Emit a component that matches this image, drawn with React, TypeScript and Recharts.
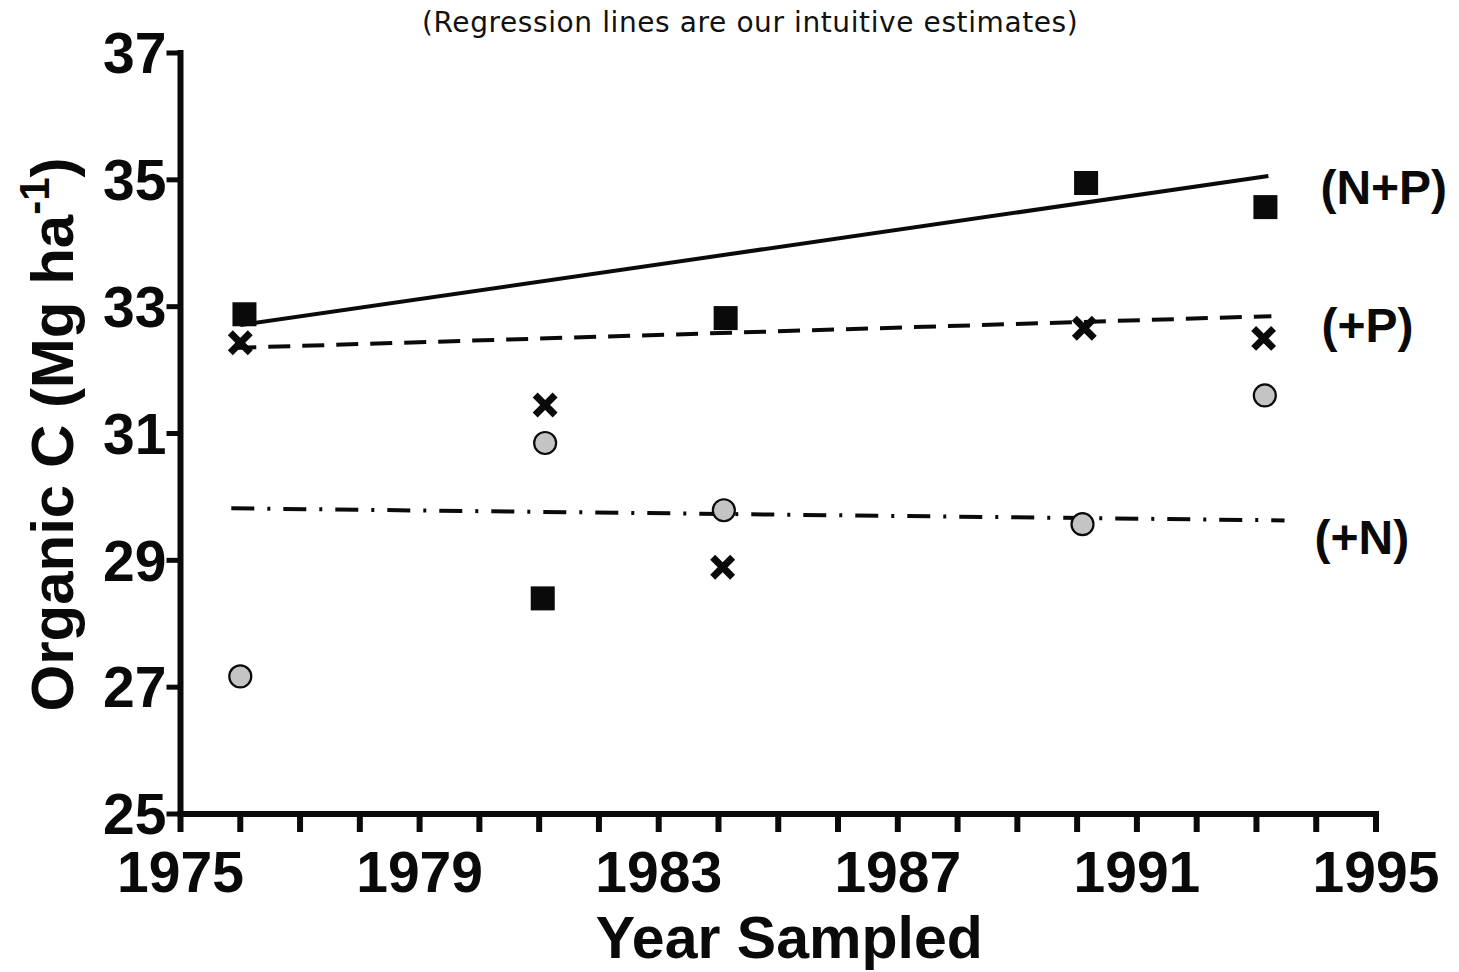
import React from 'react';
import { ComposedChart, XAxis, YAxis, Scatter, Line } from 'recharts';

// ---- data ----
const squareYears = [1976.07, 1981.06, 1984.12, 1990.15, 1993.15];
const npValues = [32.88, 28.4, 32.82, 34.95, 34.57];

const crossYears = [1976.0, 1981.1, 1984.07, 1990.12, 1993.12];
const pValues = [32.43, 31.45, 28.89, 32.66, 32.5];

const circleYears = [1976.0, 1981.1, 1984.09, 1990.09, 1993.14];
const nValues = [27.17, 30.85, 29.79, 29.57, 31.6];

const npLineYears = [1976.0, 1993.2];
const npLineValues = [32.71, 35.06];
const pLineYears = [1975.9, 1993.25];
const pLineValues = [32.35, 32.85];
const nLineYears = [1975.85, 1993.47];
const nLineValues = [29.82, 29.63];

const xTicks = [1975, 1976, 1977, 1978, 1979, 1980, 1981, 1982, 1983, 1984, 1985, 1986, 1987, 1988, 1989, 1990, 1991, 1992, 1993, 1994, 1995];
const xTickLabels = [1975, 1979, 1983, 1987, 1991, 1995];
const yTicks = [25, 27, 29, 31, 33, 35, 37];

const seriesNames = ['(N+P)', '(+P)', '(+N)'];

const zip = (xs: number[], ys: number[]) => xs.map((x, i) => ({ x, y: ys[i] }));

const npData = zip(squareYears, npValues);
const pData = zip(crossYears, pValues);
const nData = zip(circleYears, nValues);
const npLine = zip(npLineYears, npLineValues);
const pLine = zip(pLineYears, pLineValues);
const nLine = zip(nLineYears, nLineValues);

const FONT = '"Liberation Sans", Arial, Helvetica, sans-serif';
const INK = '#0a0a0a';

const SquareShape = (props: any) => {
  const { cx, cy } = props;
  if (cx == null || cy == null) return <g />;
  return <rect x={cx - 12} y={cy - 12} width={24} height={24} fill={INK} />;
};

const CrossShape = (props: any) => {
  const { cx, cy } = props;
  if (cx == null || cy == null) return <g />;
  const s = 7.5;
  return (
    <path
      d={`M${cx - s},${cy - s}L${cx + s},${cy + s}M${cx + s},${cy - s}L${cx - s},${cy + s}`}
      stroke={INK}
      strokeWidth={7}
      strokeLinecap="square"
      fill="none"
    />
  );
};

const CircleShape = (props: any) => {
  const { cx, cy } = props;
  if (cx == null || cy == null) return <g />;
  return <circle cx={cx} cy={cy} r={11} fill="#c4c4c4" stroke={INK} strokeWidth={2.2} />;
};

const XTick = (props: any) => {
  const { x, y, payload } = props;
  if (!xTickLabels.includes(payload.value)) return <g />;
  return (
    <text x={x} y={y} dy="0.71em" textAnchor="middle" fill={INK} fontSize={57} fontWeight="bold" fontFamily={FONT}>
      {payload.value}
    </text>
  );
};

const endLabel = (name: string, dx: number, dy: number) => (props: any) => {
  const { x, y, index } = props;
  if (index !== 1) return <g key={`l${index}`} />;
  return (
    <text key={`l${index}`} x={x + dx} y={y + dy} fill={INK} fontSize={48} fontWeight="bold" fontFamily={FONT}>
      {name}
    </text>
  );
};

const XLabel = (props: any) => {
  const vb = props.viewBox || { x: 0, y: 0, width: 0 };
  return (
    <text x={vb.x + vb.width / 2 + 11} y={vb.y + 144} textAnchor="middle" fill={INK} fontSize={59} fontWeight="bold" fontFamily={FONT}>
      Year Sampled
    </text>
  );
};

const YLabel = (props: any) => {
  const vb = props.viewBox || { x: 0, y: 0, height: 0 };
  const cx = 73;
  const cy = vb.y + vb.height / 2 + 1;
  return (
    <text
      x={cx}
      y={cy}
      transform={`rotate(-90, ${cx}, ${cy})`}
      textAnchor="middle"
      fill={INK}
      fontSize={60}
      fontWeight="bold"
      fontFamily={FONT}
    >
      Organic C (Mg ha
      <tspan dy={-24} fontSize={42}>-1</tspan>
      <tspan dy={24}>)</tspan>
    </text>
  );
};

export default function App() {
  return (
    <div style={{ position: 'absolute', left: 0, top: 0, width: 1459, height: 972, background: '#fff' }}>
      <div
        style={{
          position: 'absolute',
          left: 422,
          top: 9,
          fontFamily: '"DejaVu Sans", Verdana, sans-serif',
          fontSize: 28,
          letterSpacing: '0.6px',
          lineHeight: '28px',
          whiteSpace: 'nowrap',
          color: '#111',
        }}
      >
        (Regression lines are our intuitive estimates)
      </div>
      <ComposedChart width={1459} height={972} margin={{ top: 53, right: 83, bottom: 58, left: 60.5 }}>
        <XAxis
          dataKey="x"
          type="number"
          domain={[1975, 1995]}
          ticks={xTicks}
          interval={0}
          allowDataOverflow
          height={100}
          axisLine={{ stroke: INK, strokeWidth: 6, strokeLinecap: 'square' }}
          tickLine={{ stroke: INK, strokeWidth: 6 }}
          tickSize={18}
          tickMargin={20}
          tick={<XTick />}
          label={<XLabel />}
        />
        <YAxis
          dataKey="y"
          type="number"
          domain={[25, 37]}
          ticks={yTicks}
          interval={0}
          allowDataOverflow
          width={120}
          axisLine={{ stroke: INK, strokeWidth: 6, strokeLinecap: 'square' }}
          tickLine={{ stroke: INK, strokeWidth: 5 }}
          tickSize={14}
          tickMargin={0}
          tick={{ fill: INK, fontSize: 57, fontWeight: 'bold', fontFamily: FONT }}
          label={<YLabel />}
        />
        <Line
          data={npLine}
          dataKey="y"
          stroke={INK}
          strokeWidth={4}
          dot={false}
          activeDot={false}
          isAnimationActive={false}
          label={endLabel(seriesNames[0], 52, 28)}
        />
        <Line
          data={pLine}
          dataKey="y"
          stroke={INK}
          strokeWidth={4}
          strokeDasharray="22 12"
          dot={false}
          activeDot={false}
          isAnimationActive={false}
          label={endLabel(seriesNames[1], 50, 26)}
        />
        <Line
          data={nLine}
          dataKey="y"
          stroke={INK}
          strokeWidth={4}
          strokeDasharray="23 13 3 13"
          dot={false}
          activeDot={false}
          isAnimationActive={false}
          label={endLabel(seriesNames[2], 30, 34)}
        />
        <Scatter data={npData} dataKey="y" shape={SquareShape} isAnimationActive={false} />
        <Scatter data={pData} dataKey="y" shape={CrossShape} isAnimationActive={false} />
        <Scatter data={nData} dataKey="y" shape={CircleShape} isAnimationActive={false} />
      </ComposedChart>
    </div>
  );
}
